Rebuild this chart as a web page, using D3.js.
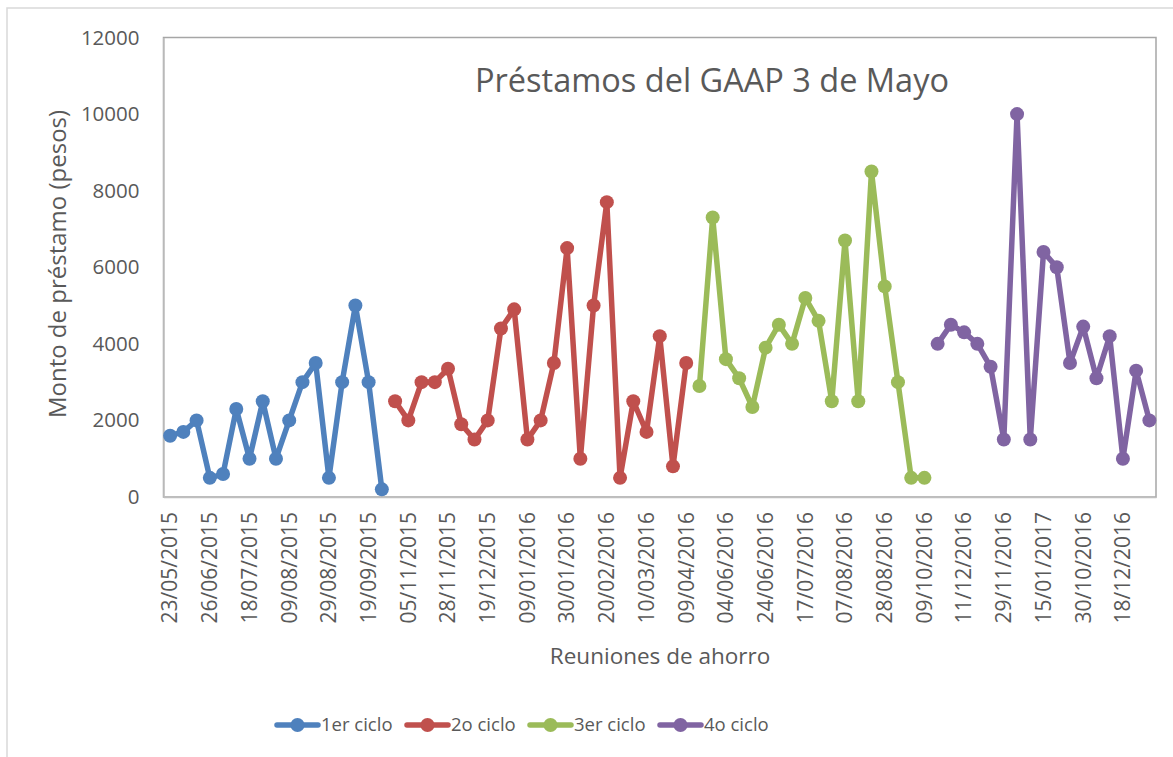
<!DOCTYPE html>
<html>
<head>
<meta charset="utf-8">
<script src="https://cdn.jsdelivr.net/npm/d3@7"></script>
<style>
  body { margin: 0; background: #fff; }
  text { font-family: "Open Sans", sans-serif; fill: #595959; }
</style>
</head>
<body>
<svg id="chart" width="1173" height="757"></svg>
<script>
// loan amounts per meeting, one array per cycle
const ciclo1 = [1600, 1700, 2000, 500, 600, 2300, 1000, 2500, 1000, 2000, 3000, 3500, 500, 3000, 5000, 3000, 200]
const ciclo2 = [2500, 2000, 3000, 3000, 3350, 1900, 1500, 2000, 4400, 4900, 1500, 2000, 3500, 6500, 1000, 5000, 7700, 500, 2500, 1700, 4200, 800, 3500]
const ciclo3 = [2900, 7300, 3600, 3100, 2350, 3900, 4500, 4000, 5200, 4600, 2500, 6700, 2500, 8500, 5500, 3000, 500, 500]
const ciclo4 = [4000, 4500, 4300, 4000, 3400, 1500, 10000, 1500, 6400, 6000, 3500, 4450, 3100, 4200, 1000, 3300, 2000]

const seriesNames = ["1er ciclo", "2o ciclo", "3er ciclo", "4o ciclo"]
const colors = ["#4F81BD", "#C0504D", "#9BBB59", "#8064A2"]

// every third meeting carries a date label
const tickLabels = ["23/05/2015", "26/06/2015", "18/07/2015", "09/08/2015", "29/08/2015", "19/09/2015",
  "05/11/2015", "28/11/2015", "19/12/2015", "09/01/2016", "30/01/2016", "20/02/2016", "10/03/2016",
  "09/04/2016", "04/06/2016", "24/06/2016", "17/07/2016", "07/08/2016", "28/08/2016", "09/10/2016",
  "11/12/2016", "29/11/2016", "15/01/2017", "30/10/2016", "18/12/2016"]
const yTicks = [0, 2000, 4000, 6000, 8000, 10000, 12000]

const all = [ciclo1, ciclo2, ciclo3, ciclo4]
let offset = 0
const series = all.map((vals, i) => {
  const s = { name: seriesNames[i], color: colors[i], points: vals.map((v, j) => ({ idx: offset + j, v: v })) }
  offset += vals.length
  return s
})
const categories = d3.range(offset)

const svg = d3.select("#chart")
const plot = { left: 163.5, right: 1156, top: 37.5, bottom: 497 }

// outer chart border
svg.append("rect")
  .attr("x", 7).attr("y", 8).attr("width", 1200).attr("height", 800)
  .attr("fill", "none").attr("stroke", "#d9d9d9").attr("stroke-width", 1.5)

const x = d3.scaleBand().domain(categories).range([plot.left, plot.right])
const y = d3.scaleLinear().domain([0, 12000]).range([plot.bottom, plot.top])

// plot area border
svg.append("rect")
  .attr("x", plot.left).attr("y", plot.top)
  .attr("width", plot.right - plot.left).attr("height", plot.bottom - plot.top)
  .attr("fill", "none").attr("stroke", "#a6a6a6").attr("stroke-width", 1.5)

// y axis
const yAxis = svg.append("g")
  .attr("transform", "translate(" + plot.left + ",0)")
  .call(d3.axisLeft(y).tickValues(yTicks).tickSize(0).tickPadding(24).tickFormat(d3.format("d")))
yAxis.select(".domain").attr("stroke", "#bfbfbf").attr("stroke-width", 1.5)
yAxis.selectAll("text").style("font-size", "20.5px").style("font-family", "Open Sans").attr("fill", "#595959")

// x axis
const xAxis = svg.append("g")
  .attr("transform", "translate(0," + plot.bottom + ")")
  .call(d3.axisBottom(x)
    .tickValues(categories.filter(d => d % 3 === 0))
    .tickFormat(d => tickLabels[d / 3])
    .tickSize(0).tickSizeOuter(0))
xAxis.select(".domain").attr("stroke", "#bfbfbf").attr("stroke-width", 1.5)
xAxis.selectAll("text")
  .style("font-size", "21px").style("font-family", "Open Sans").attr("fill", "#595959")
  .attr("text-anchor", "end")
  .attr("transform", "rotate(-90)")
  .attr("x", -15).attr("y", 0).attr("dy", "0.35em")

const line = d3.line()
  .x(d => x(d.idx) + x.bandwidth() / 2)
  .y(d => y(d.v))

const g = svg.append("g")
series.forEach(s => {
  g.append("path")
    .datum(s.points)
    .attr("fill", "none")
    .attr("stroke", s.color)
    .attr("stroke-width", 5.5)
    .attr("stroke-linejoin", "round")
    .attr("d", line)
  g.selectAll(null)
    .data(s.points)
    .enter().append("circle")
    .attr("cx", d => x(d.idx) + x.bandwidth() / 2)
    .attr("cy", d => y(d.v))
    .attr("r", 7)
    .attr("fill", s.color)
})

// title
svg.append("text")
  .attr("x", 712).attr("y", 92)
  .attr("text-anchor", "middle")
  .style("font-size", "32.5px")
  .text("Préstamos del GAAP 3 de Mayo")

// axis titles
svg.append("text")
  .attr("transform", "translate(66,264) rotate(-90)")
  .attr("text-anchor", "middle")
  .style("font-size", "24px")
  .text("Monto de préstamo (pesos)")

svg.append("text")
  .attr("x", 660).attr("y", 664)
  .attr("text-anchor", "middle")
  .style("font-size", "22.5px")
  .text("Reuniones de ahorro")

// legend
const legendX = [277, 407, 530, 660]
const legend = svg.append("g")
series.forEach((s, i) => {
  const lg = legend.append("g").attr("transform", "translate(" + legendX[i] + ",725)")
  lg.append("line").attr("x1", 0).attr("x2", 41).attr("y1", 0).attr("y2", 0)
    .attr("stroke", s.color).attr("stroke-width", 5.5).attr("stroke-linecap", "round")
  lg.append("circle").attr("cx", 20.5).attr("cy", 0).attr("r", 7).attr("fill", s.color)
  lg.append("text").attr("x", 44).attr("y", 0).attr("dy", "0.35em")
    .style("font-size", "18.5px").text(s.name)
})
</script>
</body>
</html>
